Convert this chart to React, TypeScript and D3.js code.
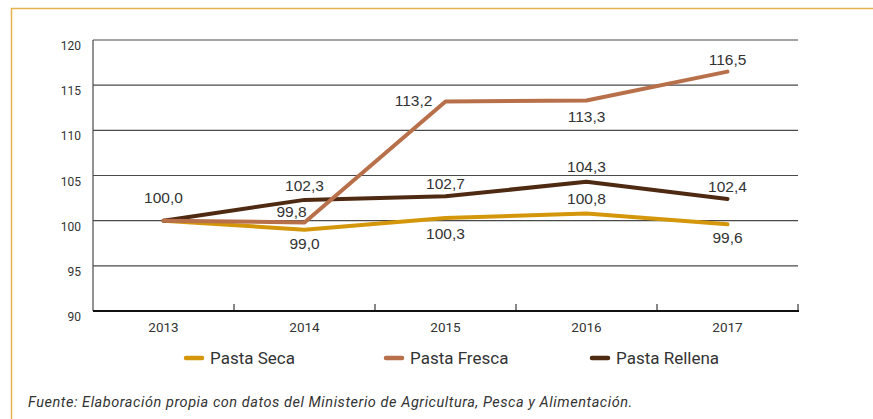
import React from "react";
import * as d3 from "d3";

const years = ["2013", "2014", "2015", "2016", "2017"];
const yTicks = [90, 95, 100, 105, 110, 115, 120];
const seriesNames = ["Pasta Seca", "Pasta Fresca", "Pasta Rellena"];
const pastaSeca = [100.0, 99.0, 100.3, 100.8, 99.6];
const pastaFresca = [100.0, 99.8, 113.2, 113.3, 116.5];
const pastaRellena = [100.0, 102.3, 102.7, 104.3, 102.4];
const seriesColors = ["#D4960A", "#B8704A", "#4F2A12"];
// label placement per point: [dx, dy] in px relative to point
const labelOffsets = [
  [[0, -23], [0, 14], [0, 16], [0, -14], [0, 14]],
  [[0, 0], [-13, -10], [-32, 0], [0, 16], [0, -12]],
  [[0, 0], [0, -14], [0, -12], [0, -15], [0, -12]],
];
const footer = "Fuente: Elaboración propia con datos del Ministerio de Agricultura, Pesca y Alimentación.";

const W = 873, H = 419;
const left = 93, right = 798, top = 40, bottom = 311;

export default function App() {
  const x = d3.scaleBand<string>().domain(years).range([left, right]);
  const y = d3.scaleLinear().domain([90, 120]).range([bottom, top]);
  const allSeries = [pastaSeca, pastaFresca, pastaRellena];
  const line = d3
    .line<number>()
    .x((_, i) => (x(years[i]) as number) + x.bandwidth() / 2)
    .y((d) => y(d));
  const fmt = (v: number) => v.toFixed(1).replace(".", ",");
  const font = "'Liberation Sans', Arial, sans-serif";
  const cond = "Roboto, sans-serif";
  const legendX = [186, 386, 592];
  const drawOrder = [0, 2, 1];
  return (
    <svg width={W} height={H} style={{ position: "absolute", left: 0, top: 0 }}>
      <rect x={0} y={0} width={W} height={H} fill="#fff" />
      <line x1={11} y1={8.5} x2={W} y2={8.5} stroke="#E6B24E" strokeWidth={1.5} />
      <line x1={11.5} y1={8} x2={11.5} y2={H} stroke="#E6B24E" strokeWidth={1.5} />
      {yTicks.map((t) => (
        <g key={t}>
          {t !== 90 && (
            <line x1={left} x2={right} y1={y(t)} y2={y(t)} stroke="#4a4a4a" strokeWidth={1.2} />
          )}
          <text x={81} y={y(t) + 10} textAnchor="end" fontFamily={cond} fontSize={12} fill="#333">
            {t}
          </text>
        </g>
      ))}
      <line x1={left} x2={left} y1={top} y2={bottom} stroke="#4a4a4a" strokeWidth={1.2} />
      <line x1={left} x2={right + 1} y1={bottom} y2={bottom} stroke="#111" strokeWidth={2} />
      {years.map((yr) => (
        <g key={yr}>
          <line
            x1={(x(yr) as number) + x.bandwidth()}
            x2={(x(yr) as number) + x.bandwidth()}
            y1={bottom}
            y2={bottom - 7}
            stroke="#111"
            strokeWidth={1}
          />
          <text
            x={(x(yr) as number) + x.bandwidth() / 2}
            y={bottom + 21}
            textAnchor="middle"
            fontFamily={cond}
            fontSize={13.5}
            fill="#333"
          >
            {yr}
          </text>
        </g>
      ))}
      {drawOrder.map((s) => (
        <path
          key={s}
          d={line(allSeries[s]) as string}
          fill="none"
          stroke={seriesColors[s]}
          strokeWidth={4}
          strokeLinejoin="round"
          strokeLinecap="round"
        />
      ))}
      {allSeries.map((vals, s) =>
        vals.map((v, i) => {
          if (i === 0 && s > 0) return null;
          const [dx, dy] = labelOffsets[s][i];
          return (
            <text
              key={s + "-" + i}
              x={(x(years[i]) as number) + x.bandwidth() / 2 + dx}
              y={y(v) + dy + 5}
              textAnchor="middle"
              fontFamily={font}
              fontSize={15.5}
              fill="#333"
            >
              {fmt(v)}
            </text>
          );
        })
      )}
      {seriesNames.map((n, i) => (
        <g key={n}>
          <line
            x1={legendX[i]}
            x2={legendX[i] + 16}
            y1={358}
            y2={358}
            stroke={seriesColors[i]}
            strokeWidth={4.5}
            strokeLinecap="round"
          />
          <text x={legendX[i] + 24} y={364} fontFamily={cond} fontSize={17} fill="#333">
            {n}
          </text>
        </g>
      ))}
      <text
        x={28}
        y={407}
        fontFamily={cond}
        fontStyle="italic"
        fontSize={14.5}
        letterSpacing={0.55}
        fill="#333"
      >
        {footer}
      </text>
    </svg>
  );
}
